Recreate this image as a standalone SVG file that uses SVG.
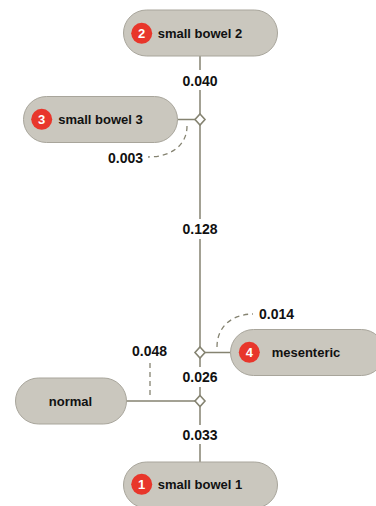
<svg xmlns="http://www.w3.org/2000/svg" width="376" height="506" viewBox="0 0 376 506">
<defs>
<style>
.node{fill:#cac7be;stroke:#a8a59b;stroke-width:1}
.badge{fill:#e8362b}
.bt{font-family:"Liberation Sans",Arial,sans-serif;font-weight:bold;font-size:13px;fill:#fff;text-anchor:middle}
.nt{font-family:"Liberation Sans",Arial,sans-serif;font-weight:bold;font-size:13px;fill:#111;text-anchor:middle}
.el{font-family:"Liberation Sans",Arial,sans-serif;font-weight:bold;font-size:14px;fill:#111}
.ln{stroke:#858371;stroke-width:1.5;fill:none}
.dash{stroke:#858371;stroke-width:1.3;fill:none;stroke-dasharray:5,4}
.dia{fill:#fff;stroke:#858371;stroke-width:1.6}
</style>
</defs>
<rect width="376" height="506" fill="#fff"/>
<g id="connectors">
<path class="ln" d="M200,56V70M200,90V119M200,119V219M200,239V352M200,352V367M200,387V401M200,401V425M200,444V462"/>
<path class="ln" d="M177.5,119.5H200M230.5,352.5H200M126.5,401H200"/>
<path class="dash" d="M187,126C187,146 170,157 148,157"/>
<path class="dash" d="M217,347C217,325 234,314 253,314"/>
<path class="dash" d="M150,363V397"/>
<path class="dia" d="M200,114L205,119.5L200,125L195,119.5Z"/>
<path class="dia" d="M200,347L205,352.5L200,358L195,352.5Z"/>
<path class="dia" d="M200,395.5L205,401L200,406.5L195,401Z"/>
<text class="el" x="200" y="86" text-anchor="middle">0.040</text>
<text class="el" x="143" y="162.5" text-anchor="end">0.003</text>
<text class="el" x="200" y="234.3" text-anchor="middle">0.128</text>
<text class="el" x="259" y="319">0.014</text>
<text class="el" x="149.5" y="356" text-anchor="middle">0.048</text>
<text class="el" x="200" y="382" text-anchor="middle">0.026</text>
<text class="el" x="200" y="440" text-anchor="middle">0.033</text>
</g>
<g id="n2">
<rect class="node" x="123.5" y="10" width="154" height="46" rx="23"/>
<circle class="badge" cx="141.7" cy="33.3" r="10.5"/>
<text class="bt" x="141.7" y="38">2</text>
<text class="nt" x="200" y="37.8">small bowel 2</text>
</g>
<g id="n3">
<rect class="node" x="23.5" y="96.5" width="154" height="46" rx="23"/>
<circle class="badge" cx="41.7" cy="119.3" r="10.5"/>
<text class="bt" x="41.7" y="124">3</text>
<text class="nt" x="100.5" y="124">small bowel 3</text>
</g>
<g id="n4">
<rect class="node" x="230.5" y="329.5" width="154" height="46" rx="23"/>
<circle class="badge" cx="249.3" cy="352.3" r="10.5"/>
<text class="bt" x="249.3" y="357">4</text>
<text class="nt" x="306" y="357">mesenteric</text>
</g>
<g id="normal">
<rect class="node" x="15.5" y="378" width="111" height="46" rx="23"/>
<text class="nt" x="70.5" y="405.5">normal</text>
</g>
<g id="n1">
<rect class="node" x="123.5" y="462" width="154" height="46" rx="23"/>
<circle class="badge" cx="141.7" cy="484.3" r="10.5"/>
<text class="bt" x="141.7" y="489">1</text>
<text class="nt" x="200" y="488.8">small bowel 1</text>
</g>
</svg>
